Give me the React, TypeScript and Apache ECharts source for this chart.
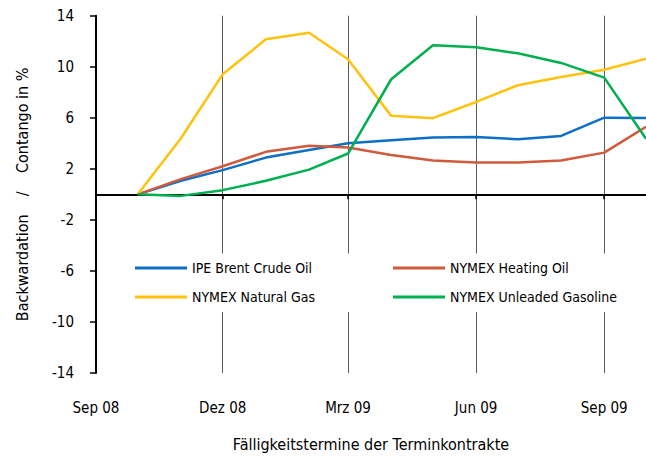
import React, { useEffect, useRef } from "react";
import * as echarts from "echarts";

const months = [
  "2008-10-01", "2008-11-01", "2008-12-01", "2009-01-01", "2009-02-01", "2009-03-01",
  "2009-04-01", "2009-05-01", "2009-06-01", "2009-07-01", "2009-08-01", "2009-09-01", "2009-10-01",
];
const brent = [0, 1.06, 1.9, 2.88, 3.48, 4.0, 4.24, 4.45, 4.5, 4.32, 4.58, 6.01, 5.99];
const heatingOil = [0, 1.19, 2.2, 3.33, 3.8, 3.67, 3.09, 2.65, 2.49, 2.49, 2.65, 3.27, 5.3];
const naturalGas = [0, 4.4, 9.41, 12.15, 12.67, 10.59, 6.15, 5.97, 7.24, 8.55, 9.2, 9.77, 10.62];
const gasoline = [0, -0.12, 0.33, 1.06, 1.94, 3.2, 9.02, 11.68, 11.52, 11.05, 10.3, 9.15, 4.35];

const seriesNames = [
  "IPE Brent Crude Oil",
  "NYMEX Heating Oil",
  "NYMEX Natural Gas",
  "NYMEX Unleaded Gasoline",
];
const seriesColors = ["#0F6FC6", "#D05A3C", "#FFC20E", "#00B050"];

const tickDates = ["2008-09-01", "2008-12-01", "2009-03-01", "2009-06-01", "2009-09-01"];
const tickLabels = ["Sep 08", "Dez 08", "Mrz 09", "Jun 09", "Sep 09"];
const gridDates = ["2008-12-01", "2009-03-01", "2009-06-01", "2009-09-01"];
const xMinDate = "2008-09-01";
const xMaxDate = "2009-10-01";

const toTs = (s: string) => {
  const [y, m, d] = s.split("-").map(Number);
  return Date.UTC(y, m - 1, d);
};

const FONT = "'Liberation Sans Narrow', 'DejaVu Sans Condensed', 'Roboto', sans-serif";

export default function App() {
  const ref = useRef<HTMLDivElement>(null);

  useEffect(() => {
    if (!ref.current) return;
    const chart = echarts.init(ref.current, undefined, { renderer: "svg" });
    const allValues = [brent, heatingOil, naturalGas, gasoline];
    const tickTs = tickDates.map(toTs);
    const labelFor = (v: number) => {
      const i = tickTs.findIndex((t) => Math.abs(t - v) < 3600 * 1000 * 12);
      return i >= 0 ? tickLabels[i] : "";
    };

    chart.setOption({
      animation: false,
      textStyle: { fontFamily: FONT },
      grid: { left: 96, right: 0, top: 15.7, bottom: 83.7, containLabel: false },
      xAxis: [
        {
          type: "value",
          min: toTs(xMinDate),
          max: toTs(xMaxDate),
          position: "bottom",
          axisLine: { show: true, onZero: true, lineStyle: { color: "#000", width: 2 } },
          axisTick: {
            show: true,
            length: 5,
            customValues: gridDates.map(toTs),
            lineStyle: { color: "#000", width: 1.5 },
          },
          axisLabel: { show: false, customValues: gridDates.map(toTs) },
          splitLine: { show: true, lineStyle: { color: "#5a5a5a", width: 1 } },
        },
        {
          type: "value",
          min: toTs(xMinDate),
          max: toTs(xMaxDate),
          position: "bottom",
          axisLine: { show: false, onZero: false },
          axisTick: { show: false, customValues: tickTs },
          splitLine: { show: false },
          axisLabel: {
            show: true,
            customValues: tickTs,
            formatter: (v: number) => labelFor(v),
            color: "#000",
            fontSize: 15,
            fontFamily: FONT,
            margin: 27,
            hideOverlap: false,
          },
          name: "Fälligkeitstermine der Terminkontrakte",
          nameLocation: "middle",
          nameGap: 63,
          nameTextStyle: { color: "#000", fontSize: 16, fontFamily: FONT },
        },
      ],
      yAxis: {
        type: "value",
        min: -14,
        max: 14,
        interval: 4,
        axisLine: { show: true, onZero: false, lineStyle: { color: "#000", width: 2 } },
        axisTick: { show: true, length: 6, lineStyle: { color: "#000", width: 1.5 } },
        axisLabel: { color: "#000", fontSize: 15, fontFamily: FONT, margin: 22 },
        splitLine: { show: false },
        name: "Backwardation    /    Contango in %",
        nameLocation: "middle",
        nameGap: 66,
        nameTextStyle: { color: "#000", fontSize: 16, fontFamily: FONT },
      },
      legend: [
        {
          data: [seriesNames[0], seriesNames[2]],
          orient: "vertical",
          left: 135,
          top: 259,
          padding: 0,
          icon: "rect",
          itemWidth: 52,
          itemHeight: 3,
          itemGap: 11,
          textStyle: { color: "#000", fontSize: 14, fontFamily: FONT, lineHeight: 18 },
        },
        {
          data: [seriesNames[1], seriesNames[3]],
          orient: "vertical",
          left: 393,
          top: 259,
          padding: 0,
          icon: "rect",
          itemWidth: 52,
          itemHeight: 3,
          itemGap: 11,
          textStyle: { color: "#000", fontSize: 14, fontFamily: FONT, lineHeight: 18 },
        },
      ],
      graphic: {
        elements: [
          {
            type: "rect",
            z: 3,
            shape: { x: 128, y: 253.5, width: 500, height: 58.5 },
            style: { fill: "#fff" },
            silent: true,
          },
        ],
      },
      series: seriesNames.map((name, si) => ({
        name,
        type: "line",
        xAxisIndex: 0,
        symbol: "none",
        color: seriesColors[si],
        lineStyle: { width: 2.5, color: seriesColors[si] },
        data: months.map((m, i) => [toTs(m), allValues[si][i]]),
        z: 2,
      })),
    });
    return () => chart.dispose();
  }, []);

  return (
    <div
      ref={ref}
      style={{ position: "fixed", left: 0, top: 0, width: 646, height: 457, background: "#fff" }}
    />
  );
}
